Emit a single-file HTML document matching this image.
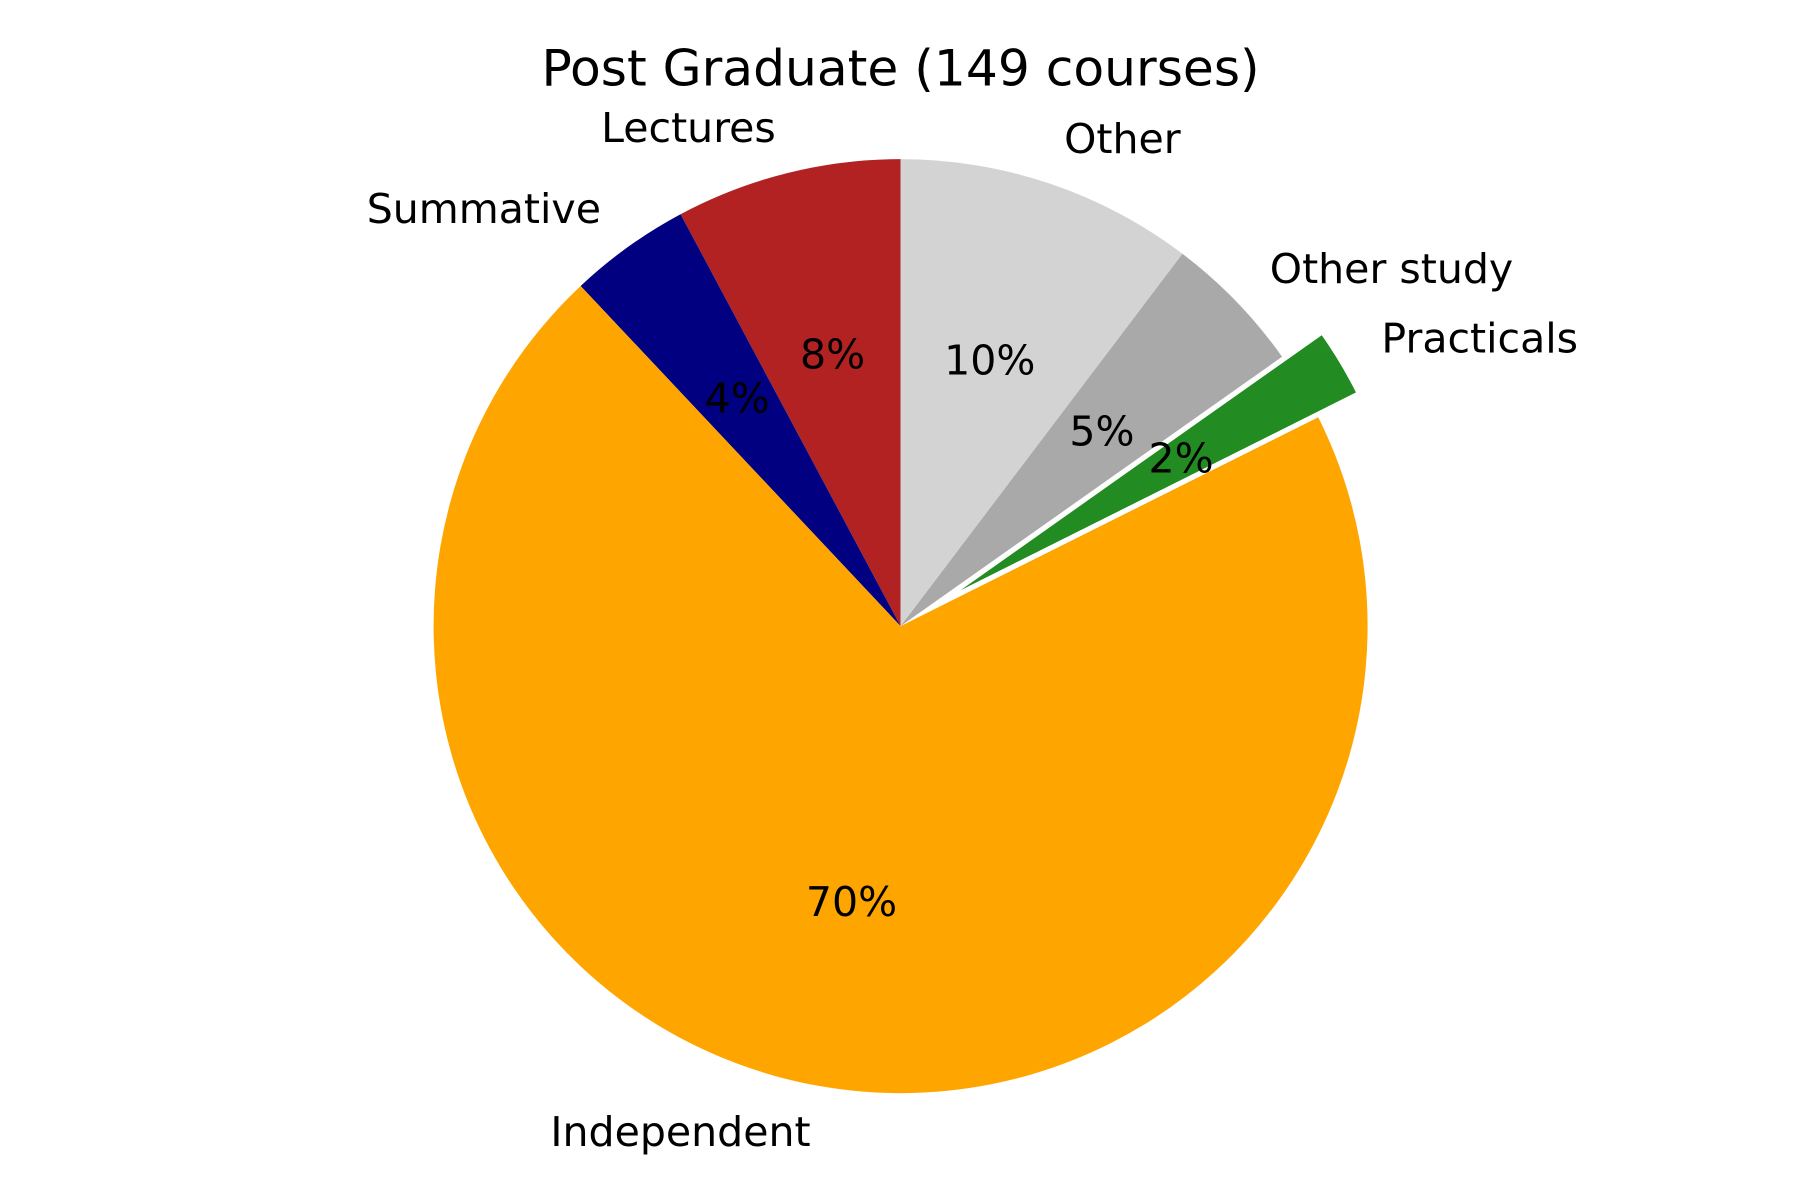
<!DOCTYPE html>
<html><head><meta charset="utf-8"><style>
html,body{margin:0;padding:0;background:#fff;width:1800px;height:1200px;overflow:hidden}
svg text{font-family:"DejaVu Sans","Liberation Sans",sans-serif;fill:#000}
</style></head><body>
<svg id="chart" width="1800" height="1200" viewBox="0 0 1561 1040.67" xmlns="http://www.w3.org/2000/svg">
<text x="781" y="74" text-anchor="middle" font-size="43.6">Post Graduate (149 courses)</text>
<g id="slices"></g>
<g id="labels"></g>
</svg>
<script>
const categories = ["Lectures","Summative","Independent","Practicals","Other study","Other"];
const values = [7.8, 4.2, 70.3, 2.4, 4.9, 10.3];
const colors = ["#b22222","#000080","#ffa500","#228b22","#a9a9a9","#d3d3d3"];
const explode = [0, 0, 0, 0.1, 0, 0];

const NS = "http://www.w3.org/2000/svg";
const cx = 781, cy = 543, R = 405, fs = 35.6;
const total = values.reduce((a,b)=>a+b,0);
const gS = document.getElementById('slices'), gL = document.getElementById('labels');
let start = 90;
values.forEach((v,i)=>{
  const span = v/total*360;
  const a0 = start, a1 = start + span, mid = (a0+a1)/2;
  const mr = mid*Math.PI/180;
  const ox = cx + explode[i]*R*Math.cos(mr), oy = cy - explode[i]*R*Math.sin(mr);
  const p = ang => [ox + R*Math.cos(ang*Math.PI/180), oy - R*Math.sin(ang*Math.PI/180)];
  const [x0,y0] = p(a0), [x1,y1] = p(a1);
  const path = document.createElementNS(NS,'path');
  path.setAttribute('d',`M${ox},${oy} L${x0},${y0} A${R},${R} 0 ${span>180?1:0} 0 ${x1},${y1} Z`);
  path.setAttribute('fill',colors[i]);
  if (explode[i] > 0) { path.setAttribute('stroke','#fff'); path.setAttribute('stroke-width','3'); }
  
  
  gS.appendChild(path);
  const pt = document.createElementNS(NS,'text');
  pt.setAttribute('x', ox + 0.6*R*Math.cos(mr));
  pt.setAttribute('y', oy - 0.6*R*Math.sin(mr));
  pt.setAttribute('text-anchor','middle');
  pt.setAttribute('dominant-baseline','central');
  pt.setAttribute('font-size', fs);
  pt.textContent = Math.round(v/total*100) + '%';
  
  
  gL.appendChild(pt);
  const lt = document.createElementNS(NS,'text');
  lt.setAttribute('x', ox + 1.1*R*Math.cos(mr));
  lt.setAttribute('y', oy - 1.1*R*Math.sin(mr));
  lt.setAttribute('text-anchor', Math.cos(mr) < 0 ? 'end' : 'start');
  lt.setAttribute('dominant-baseline','central');
  lt.setAttribute('font-size', fs);
  lt.textContent = categories[i];
  
  
  gL.appendChild(lt);
  start = a1;
});
</script>
</body></html>
